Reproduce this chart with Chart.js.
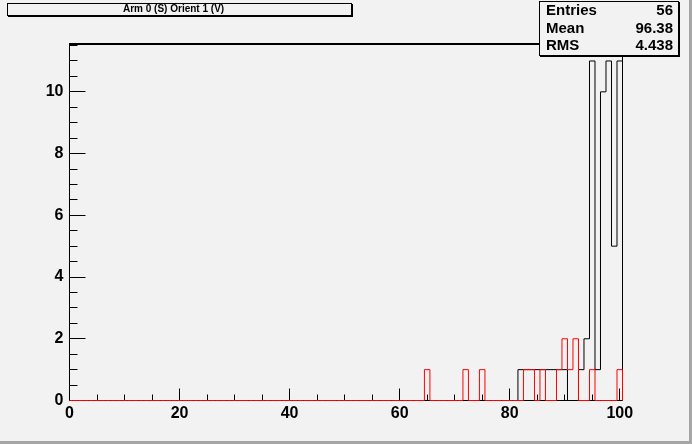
<!DOCTYPE html>
<html><head><meta charset="utf-8">
<script src="https://cdn.jsdelivr.net/npm/chart.js@4/dist/chart.umd.min.js"></script>
<style>
html,body{margin:0;padding:0;background:#f2f2f2;}
#wrap{position:relative;width:692px;height:444px;overflow:hidden;background:#f2f2f2;}
#c{position:absolute;left:0;top:0;}
.box{position:absolute;border:1px solid #000;box-shadow:1px 1px 0 #000;background:#f2f2f2;}
.t{position:absolute;white-space:nowrap;font-family:"Liberation Sans",Arial,sans-serif;font-weight:bold;color:#000;}
#edgeR{position:absolute;right:0;top:0;width:3px;height:444px;background:#a6a6a6;}
#edgeB{position:absolute;left:0;bottom:0;width:692px;height:3px;background:#a6a6a6;}
</style></head>
<body><div id="wrap">
<canvas id="c" width="692" height="444"></canvas>
<div class="box" style="left:7px;top:3px;width:343px;height:11px;"></div>
<span class="t" id="title" style="left:123px;top:4.2px;font-size:10px;line-height:10px;"></span>
<div class="box" style="left:539px;top:1px;width:138px;height:53px;"></div>
<div id="stats"></div>
<div id="edgeR"></div><div id="edgeB"></div>
</div>
<script>
// ---- data ----
const titleText = "Arm 0 (S) Orient 1 (V)";
const statsLabels = ["Entries", "Mean", "RMS"];
const statsValues = ["56", "96.38", "4.438"];

// histogram: 101 unit bins centred on 0..100
const blackBins   = [82, 83, 84, 85, 86, 87, 88, 89, 90, 93, 94, 95, 96, 97, 98, 99, 100];
const blackCounts = [ 1,  1,  1,  1,  1,  1,  1,  1,  1,  1,  2, 11,  1, 10, 11,  5,  11];
const redBins     = [65, 72, 75, 83, 84, 86, 89, 90, 91, 92, 95, 100];
const redCounts   = [ 1,  1,  1,  1,  1,  1,  1,  2,  1,  2,  1,  1];

const xTickLabels = [0, 20, 40, 60, 80, 100];
const yTickLabels = [0, 2, 4, 6, 8, 10];
const xMinorStep = 5;
const yMinorStep = 0.5;
const xRange = [0, 100.5];
const yRange = [0, 11.55];
const nBins = 101;

// ---- build step outline ----
function stepPoints(bins, counts){
  const full = new Array(nBins).fill(0);
  bins.forEach((b,i)=>{ full[b] = counts[i]; });
  const pts = [];
  for(let k=0;k<nBins;k++){
    pts.push({x: Math.max(k-0.5, xRange[0]), y: full[k]});
  }
  pts.push({x: nBins-0.5, y: full[nBins-1]});
  pts.push({x: nBins-0.5, y: 0});
  return pts;
}

document.getElementById('title').textContent = titleText;
const stats = document.getElementById('stats');
const rowTops = [2.3, 19.5, 36.7];
statsLabels.forEach((lab,i)=>{
  const a = document.createElement('span'); a.className='t';
  a.style.cssText = `left:546px;top:${rowTops[i]}px;font-size:15px;line-height:15px;`;
  a.textContent = lab; stats.appendChild(a);
  const b = document.createElement('span'); b.className='t';
  b.style.cssText = `right:${692-673}px;top:${rowTops[i]}px;font-size:15px;line-height:15px;`;
  b.textContent = statsValues[i]; stats.appendChild(b);
});

const frameTicks = {
  id:'frameTicks',
  beforeDatasetsDraw(chart){
    const {ctx, chartArea:a, scales:{x,y}} = chart;
    ctx.save();
    ctx.strokeStyle='#000'; ctx.lineWidth=1;
    ctx.beginPath();
    ctx.moveTo(a.left, a.bottom); ctx.lineTo(a.left, a.top);
    ctx.moveTo(a.right, a.top); ctx.lineTo(a.right, a.bottom);
    ctx.moveTo(a.left, a.bottom); ctx.lineTo(a.right, a.bottom);
    ctx.stroke();
    ctx.lineWidth=2;
    ctx.beginPath(); ctx.moveTo(a.left-0.5, a.top); ctx.lineTo(a.right+0.5, a.top); ctx.stroke();
    ctx.lineWidth=1;
    ctx.beginPath();
    for(let v=xRange[0]; v<=100+1e-9; v+=xMinorStep){
      const px = Math.floor(x.getPixelForValue(v))+0.5;
      const len = xTickLabels.includes(v) ? 12 : 6;
      ctx.moveTo(px, a.bottom); ctx.lineTo(px, a.bottom-len);
    }
    for(let v=yRange[0]; v<=yRange[1]; v+=yMinorStep){
      const py = Math.floor(y.getPixelForValue(v))+0.5;
      const len = yTickLabels.includes(v) ? 16 : 8;
      ctx.moveTo(a.left, py); ctx.lineTo(a.left+len, py);
    }
    ctx.stroke();
    ctx.restore();
  }
};

const font = {family:'"Liberation Sans", Arial, sans-serif', size:16, weight:'bold'};
new Chart(document.getElementById('c'), {
  type:'line',
  data:{datasets:[
    {label:'red', data: stepPoints(redBins, redCounts), stepped:'before', borderColor:'#ff0000', borderWidth:1, pointRadius:0, fill:false, order:0, clip:false},
    {label:'black', data: stepPoints(blackBins, blackCounts), stepped:'before', borderColor:'#000000', borderWidth:1, pointRadius:0, fill:false, order:1, clip:false}
  ]},
  options:{
    responsive:false, animation:false, devicePixelRatio:1,
    layout:{padding:{top:44, right:69.5, left:0, bottom:0}},
    plugins:{legend:{display:false}, tooltip:{enabled:false}, title:{display:false}},
    scales:{
      x:{type:'linear', min:xRange[0], max:xRange[1],
        grid:{display:false, drawTicks:false}, border:{display:false},
        afterBuildTicks(s){ s.ticks = xTickLabels.map(v=>({value:v})); },
        afterFit(s){ s.height = 43.5; },
        ticks:{font, color:'#000', padding:3, maxRotation:0, autoSkip:false}},
      y:{type:'linear', min:yRange[0], max:yRange[1],
        grid:{display:false, drawTicks:false}, border:{display:false},
        afterBuildTicks(s){ s.ticks = yTickLabels.map(v=>({value:v})); },
        afterFit(s){ s.width = 69.5; },
        ticks:{font, color:'#000', padding:6}}
    }
  },
  plugins:[frameTicks]
});
</script>
</body></html>
